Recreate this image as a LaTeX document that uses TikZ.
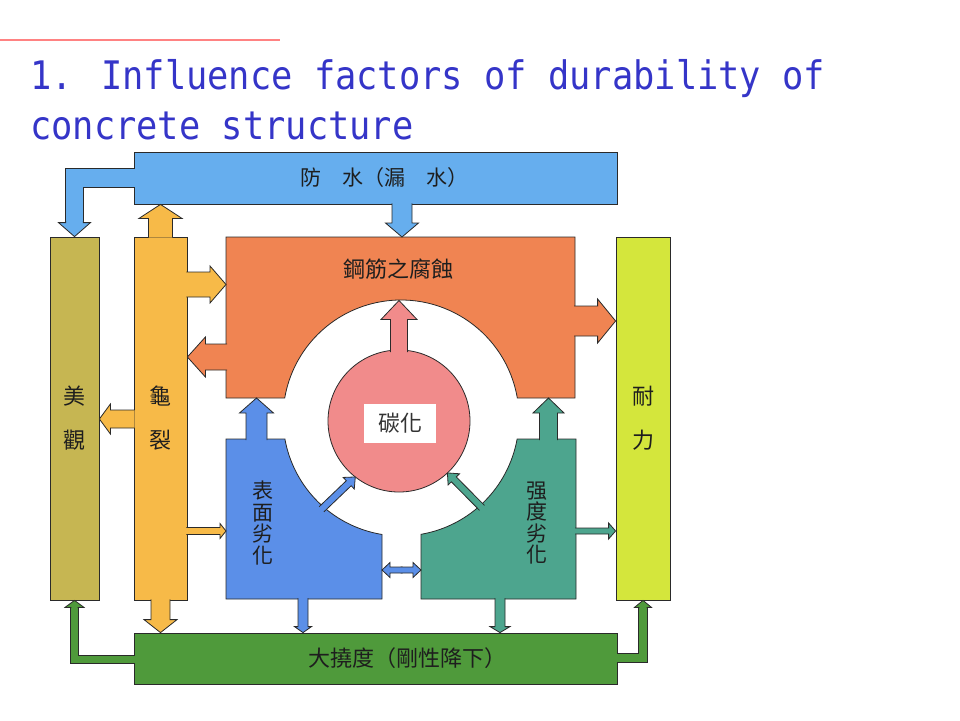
\documentclass[tikz,border=0pt]{standalone}
\usepackage{fontspec}
\usetikzlibrary{calc}
\newfontfamily\cjk{Noto Sans CJK TC}
\newfontfamily\titlefont[FakeStretch=0.9]{DejaVu Sans Mono}
\pgfdeclarelayer{back}
\pgfsetlayers{back,main}
\definecolor{titleblue}{HTML}{3535C8}
\definecolor{rulered}{HTML}{FF8282}
\definecolor{edge}{HTML}{2A2A2A}
\definecolor{ink}{HTML}{1E1E1E}
\definecolor{topblue}{HTML}{66AEEE}
\definecolor{rust}{HTML}{F08452}
\definecolor{crack}{HTML}{F7BA48}
\definecolor{khaki}{HTML}{C6B652}
\definecolor{lime}{HTML}{D4E63C}
\definecolor{surfblue}{HTML}{5B8FE8}
\definecolor{tealgr}{HTML}{4DA58E}
\definecolor{carbon}{HTML}{F18B8B}
\definecolor{grass}{HTML}{4F9A3B}
\tikzset{
  block/.style={draw=edge, line width=0.8pt, inner sep=0pt, align=center, text=ink,
    font=\cjk\fontsize{22}{44}\selectfont},
  lbl/.style={inner sep=0pt, align=center, text=ink, font=\cjk\fontsize{22}{26}\selectfont},
  shapeline/.style={draw=edge, line width=0.8pt},
  pipe/.style={draw=edge, line join=miter},
  % fat block arrow: half shaft, half head, head length
  barrow/.style n args={3}{draw=edge, line width=0.8pt, line join=miter,
    to path={let \p1=(\tikztostart), \p2=(\tikztotarget),
      \n1={atan2(\y2-\y1,\x2-\x1)}, \n2={veclen(\x2-\x1,\y2-\y1)} in
      ([shift={(\p1)},rotate=\n1]-1pt,#1) -- ([shift={(\p1)},rotate=\n1]\n2-#3,#1)
      -- ([shift={(\p1)},rotate=\n1]\n2-#3,#2) -- (\p2)
      -- ([shift={(\p1)},rotate=\n1]\n2-#3,-#2) -- ([shift={(\p1)},rotate=\n1]\n2-#3,-#1)
      -- ([shift={(\p1)},rotate=\n1]-1pt,-#1)}},
}
\begin{document}
\begin{tikzpicture}[x=1pt,y=-1pt]
\useasboundingbox (0,0) rectangle (960,720);
\tikzstyle{title}=[inner sep=0pt, anchor=base west, text=titleblue, font=\titlefont\fontsize{39.3}{47}\selectfont]

% heading
\draw[rulered, line width=2.5pt] (0,40) -- (280,40);
\node[title] (title1) at (30,89) {1. Influence factors of durability of};
\node[title] (title2) at (30,139) {concrete structure};

% bars and columns
\node[block, fill=topblue, minimum width=483pt, minimum height=52pt] (fangshui) at (375.5,178) {};
\node[block, fill=khaki, minimum width=49pt, minimum height=363pt] (meiguan) at (74.5,418.5) {美\\觀};
\node[block, fill=crack, minimum width=53pt, minimum height=363pt] (guilie) at (160.5,418.5) {龜\\裂};
\node[block, fill=lime, minimum width=54pt, minimum height=363pt] (naili) at (643,418.5) {耐\\力};
\node[block, fill=grass, minimum width=483pt, minimum height=51pt] (naodu) at (375.5,658.5) {};

% ring and carbonation
\coordinate (ringc) at (401,418);
\coordinate (tanhua) at (399,421);
\coordinate (gj-nw) at (226,237);
\coordinate (gj-se) at (575,398);
\coordinate (bm-nw) at (226,439);
\coordinate (bm-se) at (382,599);
\coordinate (qd-nw) at (421,439);
\coordinate (qd-se) at (576,599);
\coordinate (mid) at ($(bm-se)!0.5!(qd-nw)$);

\filldraw[shapeline, fill=rust] (gj-nw) -- (575,237) -- (gj-se) -- (517.3,398)
  arc[start angle=-9.76, end angle=-170.24, radius=118] -- (226,398) -- cycle;
\filldraw[shapeline, fill=surfblue] (bm-nw) -- (284.9,439)
  arc[start angle=169.75, end angle=99.26, radius=118] -- (bm-se) -- (226,599) -- cycle;
\filldraw[shapeline, fill=tealgr] (421,599) -- (421,534.3)
  arc[start angle=80.24, end angle=10.25, radius=118] -- (576,439) -- (qd-se) -- cycle;
\filldraw[shapeline, fill=carbon] (tanhua) circle[radius=71];

% elbow pipes
\begin{pgfonlayer}{back}
  \draw[pipe, line width=19.1pt] ($(fangshui.west)+(2,0)$) -| (meiguan.north |- 0,222);
  \draw[pipe, line width=8.6pt] ($(naodu.west |- 0,659.5)+(2,0)$) -| (meiguan.south |- 0,607);
  \draw[pipe, line width=9.6pt] ($(naodu.east |- 0,658)+(-2,0)$) -| (naili.south |- 0,607);
\end{pgfonlayer}
\draw[topblue, line width=17.5pt, line join=miter] ($(fangshui.west)+(2,0)$) -| (meiguan.north |- 0,222);
\draw[grass, line width=7pt, line join=miter] ($(naodu.west |- 0,659.5)+(2,0)$) -| (meiguan.south |- 0,607);
\draw[grass, line width=8pt, line join=miter] ($(naodu.east |- 0,658)+(-2,0)$) -| (naili.south |- 0,607);
\draw[barrow={8.75pt}{16pt}{14pt}, fill=topblue] (meiguan.north |- 0,222) to (meiguan.north);
\draw[barrow={3.5pt}{9.5pt}{7pt}, fill=grass] (meiguan.south |- 0,607) to (meiguan.south);
\draw[barrow={4pt}{8.5pt}{7pt}, fill=grass] (naili.south |- 0,607) to (naili.south);

% block arrows
\draw[barrow={10pt}{16.5pt}{14pt}, fill=topblue] (fangshui.south -| 402,0) to (gj-nw -| 402,0);
\draw[barrow={12pt}{21.5pt}{14pt}, fill=crack] (guilie.north) to (guilie.north |- fangshui.south);
\draw[barrow={12.5pt}{18.5pt}{16pt}, fill=crack] (guilie.east |- 0,284.5) to (gj-nw |- 0,284.5);
\draw[barrow={9pt}{15pt}{11pt}, fill=crack] (guilie.west |- 0,419) to (meiguan.east |- 0,419);
\draw[barrow={3.5pt}{7.5pt}{6pt}, fill=crack] (guilie.east |- 0,531) to (bm-nw |- 0,531);
\draw[barrow={9.5pt}{16.5pt}{13pt}, fill=crack] (guilie.south) to (guilie.south |- naodu.north);
\draw[barrow={13pt}{20pt}{18pt}, fill=rust] (gj-nw |- 0,357) to (guilie.east |- 0,357);
\draw[barrow={15pt}{22pt}{18pt}, fill=rust] (gj-se |- 0,321) to (naili.west |- 0,321);
\draw[barrow={8.5pt}{18pt}{19pt}, fill=carbon] ($(tanhua)+(0,-70)$) to (tanhua |- 0,300.5);
\draw[barrow={10.5pt}{17pt}{15pt}, fill=surfblue] (256.5,0 |- bm-nw) to (256.5,0 |- gj-se);
\draw[barrow={9pt}{15.5pt}{15pt}, fill=tealgr] (548.5,0 |- qd-nw) to (548.5,0 |- gj-se);
\draw[barrow={3.5pt}{8pt}{9pt}, fill=surfblue] ($(ringc)+(131:120)$) to ($(tanhua)+(128:71)$);
\draw[barrow={3.5pt}{8pt}{9pt}, fill=tealgr] ($(ringc)+(48:120)$) to ($(tanhua)+(47:71)$);
\draw[barrow={3pt}{7.5pt}{8pt}, fill=surfblue] (mid |- 0,570) to (bm-se |- 0,570);
\draw[barrow={3pt}{7.5pt}{8pt}, fill=surfblue] (mid |- 0,570) to (qd-nw |- 0,570);
\draw[barrow={5pt}{8.5pt}{6pt}, fill=surfblue] (303,0 |- bm-se) to (303,0 |- naodu.north);
\draw[barrow={3pt}{8pt}{7pt}, fill=tealgr] (qd-se |- 0,531) to (naili.west |- 0,531);
\draw[barrow={5pt}{10pt}{6pt}, fill=tealgr] (500,0 |- qd-se) to (500,0 |- naodu.north);

% labels
\node[lbl, font=\cjk\fontsize{21}{25}\selectfont] (fangshuitxt) at (384.5,178) {防\hspace{1em}水（漏\hspace{1em}水）};
\node[lbl] (gangjintxt) at (398,269) {鋼筋之腐蝕};
\node[lbl, fill=white, minimum width=72pt, minimum height=39pt, text=black!80] (tanhuatxt) at (400,423.5) {碳化};
\node[lbl, font=\cjk\fontsize{21}{21.5}\selectfont] (biaomiantxt) at (263,523) {表\\面\\劣\\化};
\node[lbl, font=\cjk\fontsize{21}{21.5}\selectfont] (qiangdutxt) at (537,523) {强\\度\\劣\\化};
\node[lbl] (naodutxt) at (407,658.5) {大撓度（剛性降下）};
\end{tikzpicture}
\end{document}
